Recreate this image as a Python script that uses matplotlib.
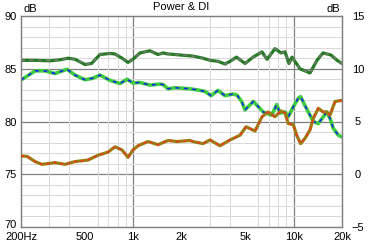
import matplotlib
matplotlib.use("Agg")
import matplotlib.pyplot as plt
from matplotlib.ticker import FixedLocator, NullFormatter
from matplotlib.transforms import ScaledTranslation

plt.rcParams["font.family"] = ["Liberation Sans", "DejaVu Sans"]
plt.rcParams["font.size"] = 8

# upper curve (left axis, dB)
top_freq = [200, 245, 303, 350, 393, 434, 501, 550, 621, 717, 770, 852, 928, 997,
            1103, 1273, 1428, 1534, 1648, 1822, 1958, 2358, 2722, 3010, 3376, 3733,
            4011, 4400, 4975, 5580, 6348, 6820, 7648, 8337, 8830, 9349, 9760, 10948,
            12636, 13974, 15228, 17084, 18616, 20000]
top_db = [85.8, 85.8, 85.75, 85.85, 86.0, 85.9, 85.4, 85.5, 86.35, 86.45, 86.4, 86.0,
          85.6, 85.9, 86.5, 86.7, 86.35, 86.5, 86.4, 86.35, 86.3, 86.2, 86.0, 85.8,
          85.7, 85.45, 85.7, 86.1, 85.5, 86.1, 86.6, 85.9, 86.9, 86.5, 86.6, 85.5,
          86.1, 85.0, 84.6, 85.8, 86.5, 86.3, 85.8, 85.5]

# middle curve (left axis, dB)
mid_freq = [200, 245, 282, 326, 387, 434, 501, 560, 621, 717, 828, 915, 997, 1100,
            1273, 1469, 1534, 1648, 1822, 2260, 2500, 2802, 3054, 3376, 3733, 4188,
            4435, 4742, 4975, 5604, 6466, 7296, 7836, 8218, 8830, 9256, 9944, 10684,
            11056, 11764, 12636, 13252, 14234, 15290, 16054, 16840, 17656, 18968, 20000]
mid_db = [83.93, 84.8, 84.8, 84.55, 84.95, 84.4, 83.96, 84.1, 84.4, 83.9, 83.6, 84.0,
          83.65, 83.7, 83.45, 83.55, 83.5, 83.1, 83.2, 83.1, 83.0, 82.85, 82.45, 82.95,
          82.45, 82.6, 82.5, 81.9, 81.1, 81.9, 80.9, 80.6, 81.6, 80.8, 80.9, 80.45,
          81.4, 82.2, 82.35, 81.5, 80.6, 80.0, 79.8, 80.45, 80.9, 80.3, 79.35, 78.7, 78.55]

# directivity index (right axis, dB)
di_freq = [200, 218, 245, 270, 326, 376, 434, 523, 604, 697, 770, 852, 928, 997, 1072,
           1237, 1428, 1648, 1875, 2260, 2358, 2722, 3010, 3475, 4011, 4629, 5047, 5742,
           6348, 6918, 7648, 8337, 8830, 9256, 9944, 10442, 11056, 11764, 12636, 13252,
           14234, 15290, 16054, 16840, 18092, 20000]
di_db = [1.73, 1.7, 1.2, 0.94, 1.1, 0.94, 1.2, 1.35, 1.8, 2.1, 2.6, 2.3, 1.6, 2.3, 2.7,
         3.1, 2.8, 3.2, 3.1, 3.2, 3.1, 2.9, 3.25, 2.7, 3.25, 3.7, 4.5, 4.1, 5.45, 5.9,
         5.45, 6.0, 5.8, 4.8, 4.7, 3.7, 2.9, 3.4, 4.2, 5.3, 6.25, 5.9, 5.9, 5.6, 6.9, 7.0]

x_ticks = [200, 500, 1000, 2000, 5000, 10000, 20000]
x_labels = ["200Hz", "500", "1k", "2k", "5k", "10k", "20k"]
left_ticks = [70, 75, 80, 85, 90]
right_ticks = [-5, 0, 5, 10, 15]

W, H = 370, 246
PT = 72 / 100  # points per pixel at dpi 100
fig = plt.figure(figsize=(W / 100, H / 100), dpi=100)
ax = fig.add_axes([21 / W, 19 / H, 321 / W, 211 / H])
ax2 = ax.twinx()

ax.set_xscale("log")
ax.set_xlim(200, 20000)
ax.set_ylim(70, 90)
ax2.set_ylim(-5, 15)

# grid: light every 1 dB / every sub-decade step, dark on 5 dB and decades
minor_x = [m * d for d in (100, 1000, 10000) for m in range(1, 10) if 200 <= m * d <= 20000]
ax.xaxis.set_minor_locator(FixedLocator(minor_x))
ax.xaxis.set_minor_formatter(NullFormatter())
ax.set_yticks(range(70, 91), minor=True)
ax.grid(True, which="minor", color="#dadada", lw=0.75, zorder=0)
for f in (1000, 10000):
    ax.axvline(f, color="#808080", lw=0.9, zorder=0.5)
for v in (75, 80, 85):
    ax.axhline(v, color="#808080", lw=0.9, zorder=0.5)

ax.set_xticks(x_ticks)
ax.set_xticklabels(x_labels)
ax.set_yticks(left_ticks)
ax2.set_yticks(right_ticks)
ax.tick_params(which="both", length=0)
ax2.tick_params(which="both", length=0)
ax.tick_params(axis="x", pad=4.5 * PT)
ax.tick_params(axis="y", pad=4.5 * PT)
ax2.tick_params(axis="y", pad=16 * PT)
for lab in ax2.get_yticklabels():
    lab.set_horizontalalignment("center")

# nudge the bottom-left labels apart so "70" clears "200Hz"
fig.canvas.draw()
up = ScaledTranslation(0, 2.5 / 100, fig.dpi_scale_trans)
ax.get_yticklabels()[0].set_transform(ax.get_yticklabels()[0].get_transform() + up)

for a in (ax, ax2):
    for s in a.spines.values():
        s.set_color("#808080")
        s.set_linewidth(0.9)

# curves: thick solid line with a thin dashed line on top
ax.plot(top_freq, top_db, color="#237a23", lw=2.3, solid_capstyle="round", zorder=3)
ax.plot(top_freq, top_db, color="#7a7a7a", lw=1.0, ls=(0, (3, 3)), zorder=4)
ax.plot(mid_freq, mid_db, color="#3ccc3c", lw=2.6, solid_capstyle="round", zorder=3)
ax.plot(mid_freq, mid_db, color="#1a1aff", lw=1.1, ls=(0, (2.5, 3)), zorder=4)
ax2.plot(di_freq, di_db, color="#9a7c10", lw=2.3, solid_capstyle="round", zorder=3)
ax2.plot(di_freq, di_db, color="#ff2a2a", lw=1.0, ls=(0, (2, 3)), zorder=4)

fig.text(181.5 / W, 1 - 7 / H, "Power & DI", ha="center", va="center", fontsize=8)
fig.text(23 / W, 1 - 9 / H, "dB", ha="left", va="center", fontsize=8)
fig.text(340 / W, 1 - 9 / H, "dB", ha="right", va="center", fontsize=8)

fig.savefig("out.png", dpi=100)
